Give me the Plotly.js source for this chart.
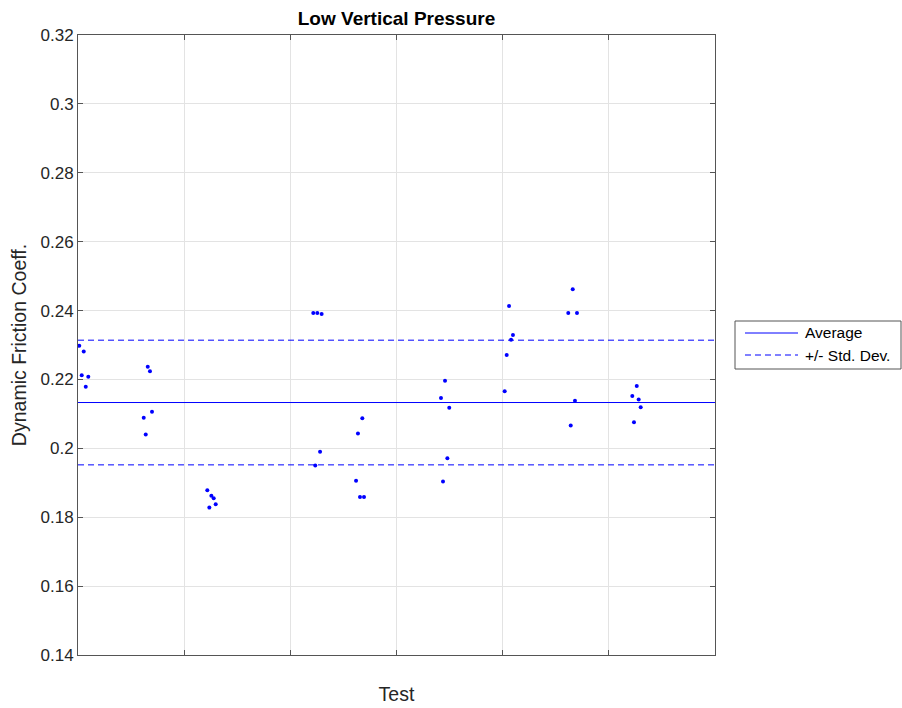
<!DOCTYPE html>
<html>
<head>
<meta charset="utf-8">
<script src="https://cdn.plot.ly/plotly-3.0.1.min.js"></script>
<style>html,body{margin:0;padding:0;background:#fff;}#chart{width:902px;height:708px;}</style>
</head>
<body>
<div id="chart"></div>
<script>
// Measurement positions along the "Test" axis and friction coefficients
const testX = [
  0.12, 0.54, 0.35, 0.97, 0.73,
  6.57, 6.78, 6.97, 6.19, 6.38,
  12.18, 12.56, 12.78, 12.97, 12.37,
  22.16, 22.54, 22.95, 22.80, 22.35,
  26.78, 26.37, 26.19, 26.56, 26.94,
  34.57, 34.19, 34.97, 34.79, 34.38,
  40.60, 40.97, 40.79, 40.38, 40.19,
  46.60, 46.18, 47.00, 46.81, 46.41,
  52.63, 52.21, 52.81, 53.00, 52.37
];
const frictionCoeff = [
  0.2298, 0.2281, 0.2212, 0.2208, 0.2179,
  0.2237, 0.2224, 0.2106, 0.2089, 0.2040,
  0.1878, 0.1862, 0.1855, 0.1838, 0.1828,
  0.2393, 0.2393, 0.2390, 0.1990, 0.1950,
  0.2087, 0.2043, 0.1906, 0.1859, 0.1859,
  0.2196, 0.2146, 0.2118, 0.1971, 0.1904,
  0.2413, 0.2329, 0.2315, 0.2271, 0.2166,
  0.2462, 0.2393, 0.2393, 0.2138, 0.2066,
  0.2181, 0.2152, 0.2142, 0.2119, 0.2076
];
const xSpan = [0, 60];
const averageValue = [0.2133];
const stdDevValue = [0.0181];
const legendLabels = ["Average", "+/- Std. Dev."];
const yTickVals = [0.14, 0.16, 0.18, 0.2, 0.22, 0.24, 0.26, 0.28, 0.3, 0.32];
const yTickText = ["0.14", "0.16", "0.18", "0.2", "0.22", "0.24", "0.26", "0.28", "0.3", "0.32"];
const xTickVals = [0, 10, 20, 30, 40, 50, 60];

const avg = averageValue[0], sd = stdDevValue[0];
const FONT = "Liberation Sans, Arial, Helvetica, sans-serif";
const AX = "#262626";

// plot-area geometry (pixels) used to place the hand-drawn legend box
const W = 902, H = 708, ML = 78, MR = 187, MT = 35, MB = 53;
const PW = W - ML - MR, PH = H - MT - MB;
const px = v => (v - ML) / PW;
const py = v => (H - MB - v) / PH;

const traces = [
  {
    x: testX, y: frictionCoeff, type: "scatter", mode: "markers",
    marker: {color: "#0000ff", size: 4}, showlegend: false, hoverinfo: "x+y"
  },
  {
    x: xSpan, y: [avg, avg], type: "scatter", mode: "lines", name: legendLabels[0],
    line: {color: "#0000ff", width: 1}, showlegend: false
  },
  {
    x: [xSpan[0], xSpan[1], null, xSpan[0], xSpan[1]],
    y: [avg + sd, avg + sd, null, avg - sd, avg - sd],
    type: "scatter", mode: "lines", name: legendLabels[1],
    line: {color: "#0000ff", width: 1, dash: "6px,4px"}, showlegend: false
  }
];

const legendShapes = [
  {type: "rect", xref: "paper", yref: "paper", x0: px(735), x1: px(901), y0: py(321), y1: py(369),
   line: {color: "#555", width: 1}, fillcolor: "#ffffff", layer: "above"},
  {type: "line", xref: "paper", yref: "paper", x0: px(745), x1: px(798), y0: py(333), y1: py(333),
   line: {color: "#0000ff", width: 1}},
  {type: "line", xref: "paper", yref: "paper", x0: px(745), x1: px(798), y0: py(355), y1: py(355),
   line: {color: "#0000ff", width: 1, dash: "6px,4px"}}
];
const legendAnnotations = legendLabels.map((t, i) => ({
  text: t, xref: "paper", yref: "paper", x: px(803), y: py(333 + 22 * i),
  xanchor: "left", yanchor: "middle", showarrow: false,
  font: {family: FONT, size: 15.5, color: "#000000"}
}));

const layout = {
  width: W, height: H,
  margin: {l: ML, r: MR, t: MT, b: MB, pad: 0},
  paper_bgcolor: "#ffffff", plot_bgcolor: "#ffffff",
  font: {family: FONT, size: 17, color: AX},
  title: {
    text: "<b>Low Vertical Pressure</b>",
    font: {family: FONT, size: 19, color: "#000000"},
    x: 0.5, xref: "paper", xanchor: "center",
    y: 1, yref: "paper", yanchor: "bottom", pad: {b: 10}
  },
  xaxis: {
    range: xSpan, tickvals: xTickVals, showticklabels: false,
    ticks: "inside", ticklen: 5, tickcolor: "#555",
    showgrid: true, gridcolor: "#e3e3e3", gridwidth: 1,
    showline: true, linecolor: "#555", linewidth: 1, mirror: "ticks",
    zeroline: false,
    title: {text: "Test", font: {family: FONT, size: 19.5, color: AX}, standoff: 32}
  },
  yaxis: {
    range: [0.14, 0.32], tickvals: yTickVals, ticktext: yTickText,
    ticks: "inside", ticklen: 5, tickcolor: "#555",
    tickfont: {family: FONT, size: 17, color: AX},
    showgrid: true, gridcolor: "#e3e3e3", gridwidth: 1,
    showline: true, linecolor: "#555", linewidth: 1, mirror: "ticks",
    zeroline: false,
    title: {text: "Dynamic Friction Coeff.", font: {family: FONT, size: 19.5, color: AX}, standoff: 8}
  },
  showlegend: false,
  shapes: legendShapes,
  annotations: legendAnnotations
};

Plotly.newPlot("chart", traces, layout, {displayModeBar: false, staticPlot: true});
</script>
</body>
</html>
